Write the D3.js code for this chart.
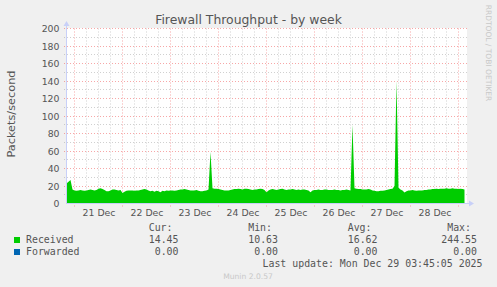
<!DOCTYPE html>
<html>
<head>
<meta charset="utf-8">
<script src="https://cdn.jsdelivr.net/npm/d3@7"></script>
<style>
body { margin: 0; background: #f0f0f0; }
svg { display: block; }
</style>
</head>
<body>
<div class="container"></div>
<script>
// hourly samples, first one at 20 Dec 20:00 UTC
const received = [
    23, 25, 27, 16,
    15, 14.5, 15, 15.5, 15, 14.5, 15, 15.5, 16, 15.5, 15, 15.5,
    17, 17.5, 16.5, 15.5, 14,
    14, 15, 16, 16, 15.5, 15, 15.5,
    12,
    13.5, 14.5, 15, 15, 15, 14.5, 15, 15, 15.5, 16, 16.5, 16,
    15, 14, 14.5, 13.5, 14.5, 14, 13, 14.5, 14, 15, 14.5, 15,
    15, 14.5, 15, 15.5, 16, 16, 16.5, 16,
    15.5, 15, 15, 15, 15.5, 14.5, 14, 14, 14.5, 15,
    16, 59, 17.5,
    17, 17, 16.5, 16, 15.5, 15, 15, 15, 15.5,
    16, 16.5, 16.5, 17, 16.5, 16, 17, 17, 16.5, 16,
    15.5, 16, 16, 16.5, 17, 16.5, 15.5, 13,
    15, 16, 16.5, 16, 15.5, 16, 16.5, 17, 16, 15.5, 16, 16, 16.5, 16, 15.5, 16, 15.5, 16, 16, 15.5,
    15, 13,
    15, 15.5, 15.5, 16, 15.5, 15.5, 16, 16, 15.5, 15.5, 15.5, 16, 15.5, 15.5, 15, 15.5, 15.5, 16, 15.5,
    15, 90, 17.5,
    17, 16.5, 16.5, 16, 16, 16, 16.5, 16,
    15, 14.5, 14, 14, 14.5, 14.5, 15, 15.5,
    16, 16.5, 17, 20,
    140,
    18, 16, 15, 12.5,
    14, 15, 15, 15.5, 15, 14.5, 15, 15, 15, 15.5, 15.5,
    16, 16, 16.5, 16.5, 17, 16.5, 17, 17, 17, 17.5, 17, 17, 17.5, 17, 17, 16.5, 17, 16.5, 16
];
const dayLabels = ["21 Dec", "22 Dec", "23 Dec", "24 Dec", "25 Dec", "26 Dec", "27 Dec", "28 Dec"];
const yTicks = [0, 20, 40, 60, 80, 100, 120, 140, 160, 180, 200];
const seriesNames = ["Received", "Forwarded"];
const seriesColors = ["#00cc00", "#0066b3"];
const statHeads = ["Cur:", "Min:", "Avg:", "Max:"];
const receivedStats = ["14.45", "10.63", "16.62", "244.55"];
const forwardedStats = ["0.00", "0.00", "0.00", "0.00"];

const w = 497;
const h = 287;
const plotLeft = 66, plotRight = 466, plotTop = 28.5, plotBottom = 203.5;
const sans = "'DejaVu Sans', sans-serif";
const mono = "'DejaVu Sans Mono', monospace";
const textColor = "#555";
const axisColor = "#c8d0f8";

const t0 = new Date(Date.UTC(2025, 11, 20, 19, 45, 5));
const t1 = new Date(Date.UTC(2025, 11, 29, 3, 45, 5));
const dataStart = Date.UTC(2025, 11, 20, 20, 0, 0);
const data = received.map((v, i) => ({ t: new Date(dataStart + i * 3600000), v: v }));

const svg = d3.select(".container")
    .append("svg")
    .attr("width", w)
    .attr("height", h)
    .style("background", "#f0f0f0");

const xScale = d3.scaleUtc().domain([t0, t1]).range([plotLeft, plotRight]);
const yScale = d3.scaleLinear().domain([0, 200]).range([plotBottom, plotTop]);
const snap = (v) => Math.floor(v) + 0.5;

// plot background
svg.append("rect")
    .attr("x", plotLeft).attr("y", plotTop - 0.5)
    .attr("width", plotRight - plotLeft + 1).attr("height", plotBottom - plotTop + 0.5)
    .attr("fill", "#ffffff");

// minor grid
const sixHours = d3.utcHour.every(6).range(t0, t1);
const minorY = d3.range(10, 201, 20);
svg.append("g").selectAll("line")
    .data(sixHours.filter(d => d.getUTCHours() !== 0))
    .enter().append("line")
    .attr("x1", d => snap(xScale(d))).attr("x2", d => snap(xScale(d)))
    .attr("y1", plotTop).attr("y2", plotBottom + 2)
    .attr("stroke", "rgba(150,150,150,0.45)")
    .attr("stroke-dasharray", "1,2");
svg.append("g").selectAll("line")
    .data(minorY)
    .enter().append("line")
    .attr("x1", plotLeft - 2).attr("x2", plotRight + 1)
    .attr("y1", d => snap(yScale(d))).attr("y2", d => snap(yScale(d)))
    .attr("stroke", "rgba(150,150,150,0.45)")
    .attr("stroke-dasharray", "1,2");

// major grid
const days = d3.utcDay.range(t0, t1);
svg.append("g").selectAll("line")
    .data(days)
    .enter().append("line")
    .attr("x1", d => snap(xScale(d))).attr("x2", d => snap(xScale(d)))
    .attr("y1", plotTop).attr("y2", plotBottom + 3)
    .attr("stroke", "rgba(240,80,80,0.5)")
    .attr("stroke-dasharray", "1,2");
svg.append("g").selectAll("line")
    .data(yTicks.filter(d => d > 0))
    .enter().append("line")
    .attr("x1", plotLeft - 2).attr("x2", plotRight + 1)
    .attr("y1", d => snap(yScale(d))).attr("y2", d => snap(yScale(d)))
    .attr("stroke", "rgba(240,80,80,0.5)")
    .attr("stroke-dasharray", "1,2");

// received area
const area = d3.area()
    .x(d => xScale(d.t))
    .y0(yScale(0))
    .y1(d => yScale(d.v));
svg.append("path")
    .datum(data)
    .attr("d", area)
    .attr("fill", seriesColors[0]);

// axis lines + arrows
svg.append("line")
    .attr("x1", plotLeft + 0.5).attr("x2", plotLeft + 0.5)
    .attr("y1", plotBottom + 0.5).attr("y2", 24)
    .attr("stroke", axisColor);
svg.append("path")
    .attr("d", `M${plotLeft + 0.5},21 L${plotLeft + 3.5},26 L${plotLeft - 2.5},26 Z`)
    .attr("fill", axisColor);
svg.append("line")
    .attr("x1", plotLeft).attr("x2", 471)
    .attr("y1", plotBottom).attr("y2", plotBottom)
    .attr("stroke", axisColor);
svg.append("path")
    .attr("d", `M474,${plotBottom} L469,${plotBottom - 3} L469,${plotBottom + 3} Z`)
    .attr("fill", axisColor);

// axes labels
const noons = dayLabels.map((d, i) => new Date(Date.UTC(2025, 11, 21 + i, 12)));
const xAxis = d3.axisBottom(xScale)
    .tickValues(noons)
    .tickFormat((d, i) => dayLabels[i])
    .tickSize(0)
    .tickPadding(6);
const yAxis = d3.axisLeft(yScale)
    .tickValues(yTicks)
    .tickSize(0)
    .tickPadding(6.5);

const gx = svg.append("g")
    .attr("transform", "translate(0," + plotBottom + ")")
    .call(xAxis);
const gy = svg.append("g")
    .attr("transform", "translate(" + plotLeft + ",0)")
    .call(yAxis);
[gx, gy].forEach(g => {
    g.select(".domain").remove();
    g.attr("font-family", sans).attr("font-size", 9.33);
    g.selectAll("text").attr("fill", textColor);
});

// title and side texts
svg.append("text")
    .attr("x", 248.5).attr("y", 24)
    .attr("text-anchor", "middle")
    .attr("font-family", sans).attr("font-size", 12.4)
    .attr("fill", textColor)
    .text("Firewall Throughput - by week");

svg.append("text")
    .attr("transform", "translate(15,114) rotate(-90)")
    .attr("text-anchor", "middle")
    .attr("font-family", sans).attr("font-size", 11.3)
    .attr("fill", textColor)
    .text("Packets/second");

svg.append("text")
    .attr("transform", "translate(485.5,53) rotate(90)")
    .attr("text-anchor", "middle")
    .attr("font-family", sans).attr("font-size", 7.5)
    .attr("fill", "#c8c8c8")
    .text("RRDTOOL / TOBI OETIKER");

// legend
const colRight = [178.5, 278, 377.5, 477];
svg.append("g").selectAll("text")
    .data(statHeads)
    .enter().append("text")
    .attr("x", (d, i) => colRight[i] - 6)
    .attr("y", 231)
    .attr("text-anchor", "end")
    .attr("font-family", mono).attr("font-size", 9.9)
    .attr("fill", textColor)
    .text(d => d);

[receivedStats, forwardedStats].forEach((stats, r) => {
    const yRow = 243 + r * 12;
    svg.append("rect")
        .attr("x", 14).attr("y", yRow - 6)
        .attr("width", 6).attr("height", 6)
        .attr("fill", seriesColors[r]);
    svg.append("text")
        .attr("x", 26).attr("y", yRow)
        .attr("font-family", mono).attr("font-size", 9.9)
        .attr("fill", textColor)
        .text(seriesNames[r]);
    svg.append("g").selectAll("text")
        .data(stats)
        .enter().append("text")
        .attr("x", (d, i) => colRight[i])
        .attr("y", yRow)
        .attr("text-anchor", "end")
        .attr("font-family", mono).attr("font-size", 9.9)
        .attr("fill", textColor)
        .text(d => d);
});

svg.append("text")
    .attr("x", 482.5).attr("y", 267)
    .attr("text-anchor", "end")
    .attr("font-family", mono).attr("font-size", 9.9)
    .attr("fill", textColor)
    .text("Last update: Mon Dec 29 03:45:05 2025");

svg.append("text")
    .attr("x", 248).attr("y", 279)
    .attr("text-anchor", "middle")
    .attr("font-family", sans).attr("font-size", 7.6)
    .attr("fill", "#c8c8c8")
    .text("Munin 2.0.57");
</script>
</body>
</html>
